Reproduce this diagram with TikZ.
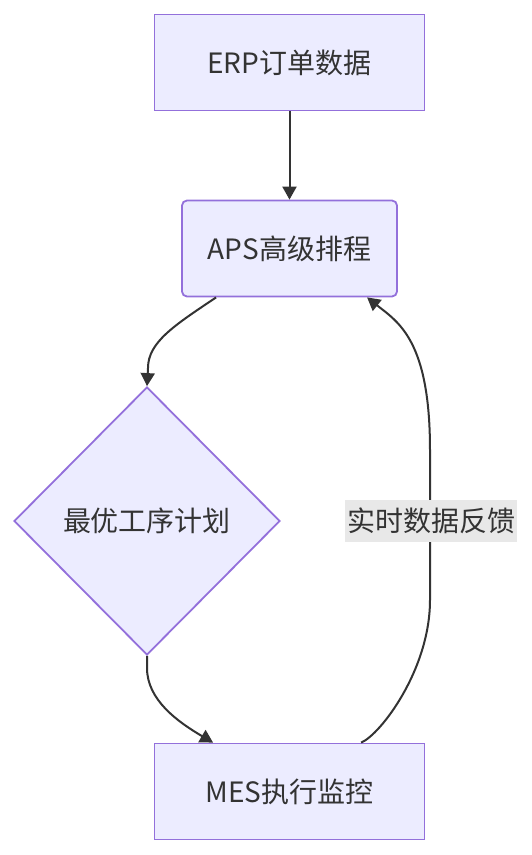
\documentclass[tikz,border=0pt]{standalone}
\usepackage{fontspec}
\setmainfont{Noto Sans CJK SC}
\usetikzlibrary{shapes.geometric,arrows.meta,calc}
\definecolor{nodefill}{HTML}{ECECFF}
\definecolor{nodeline}{HTML}{9370DB}
\definecolor{edgeline}{HTML}{333333}
\definecolor{labelbg}{HTML}{E8E8E8}
\definecolor{txtcol}{HTML}{333333}
\begin{document}
\begin{tikzpicture}[x=1pt,y=-1pt,
  basenode/.style={draw=nodeline, fill=nodefill, line width=1.8pt, inner sep=0pt,
    text=txtcol, font=\fontsize{28}{32}\selectfont},
  box/.style={basenode, rectangle, minimum width=270pt, minimum height=96pt},
  rbox/.style={basenode, rectangle, rounded corners=5pt, minimum width=215pt, minimum height=96pt},
  decision/.style={basenode, diamond, minimum width=266pt, minimum height=268pt},
  edgelabel/.style={fill=labelbg, inner sep=0pt, minimum width=172pt, minimum height=42pt,
    text=txtcol, font=\fontsize{28}{32}\selectfont},
  conn/.style={draw=edgeline, line width=2pt, -{Triangle[width=14pt,length=13pt]}}
]
\useasboundingbox (0,0) rectangle (531,855);

\node[box] (erp) at (289.5,62.5) {ERP订单数据};
\node[rbox] (aps) at (289.5,248.5) {APS高级排程};
\node[decision] (dec) at (147,521) {最优工序计划};
\node[box] (mes) at (289.5,791.5) {MES执行监控};

\draw[conn] (erp.south) -- (aps.north);
\draw[conn] ([xshift=35pt]aps.south west) .. controls (175,325) and (148,342) .. (148,368) -- (dec.north);
\draw[conn] (dec.south) -- (147,668) .. controls (147,700) and (178,722) .. ([xshift=59.5pt]mes.north west);
\draw[conn] ([xshift=207.5pt]mes.north west) .. controls (380,735) and (430,670) .. (430,600)
  -- (430,450) .. controls (430,340) and (398,322) .. ([xshift=186pt]aps.south west);

\node[edgelabel] (lbl) at (431,521) {实时数据反馈};
\end{tikzpicture}
\end{document}
